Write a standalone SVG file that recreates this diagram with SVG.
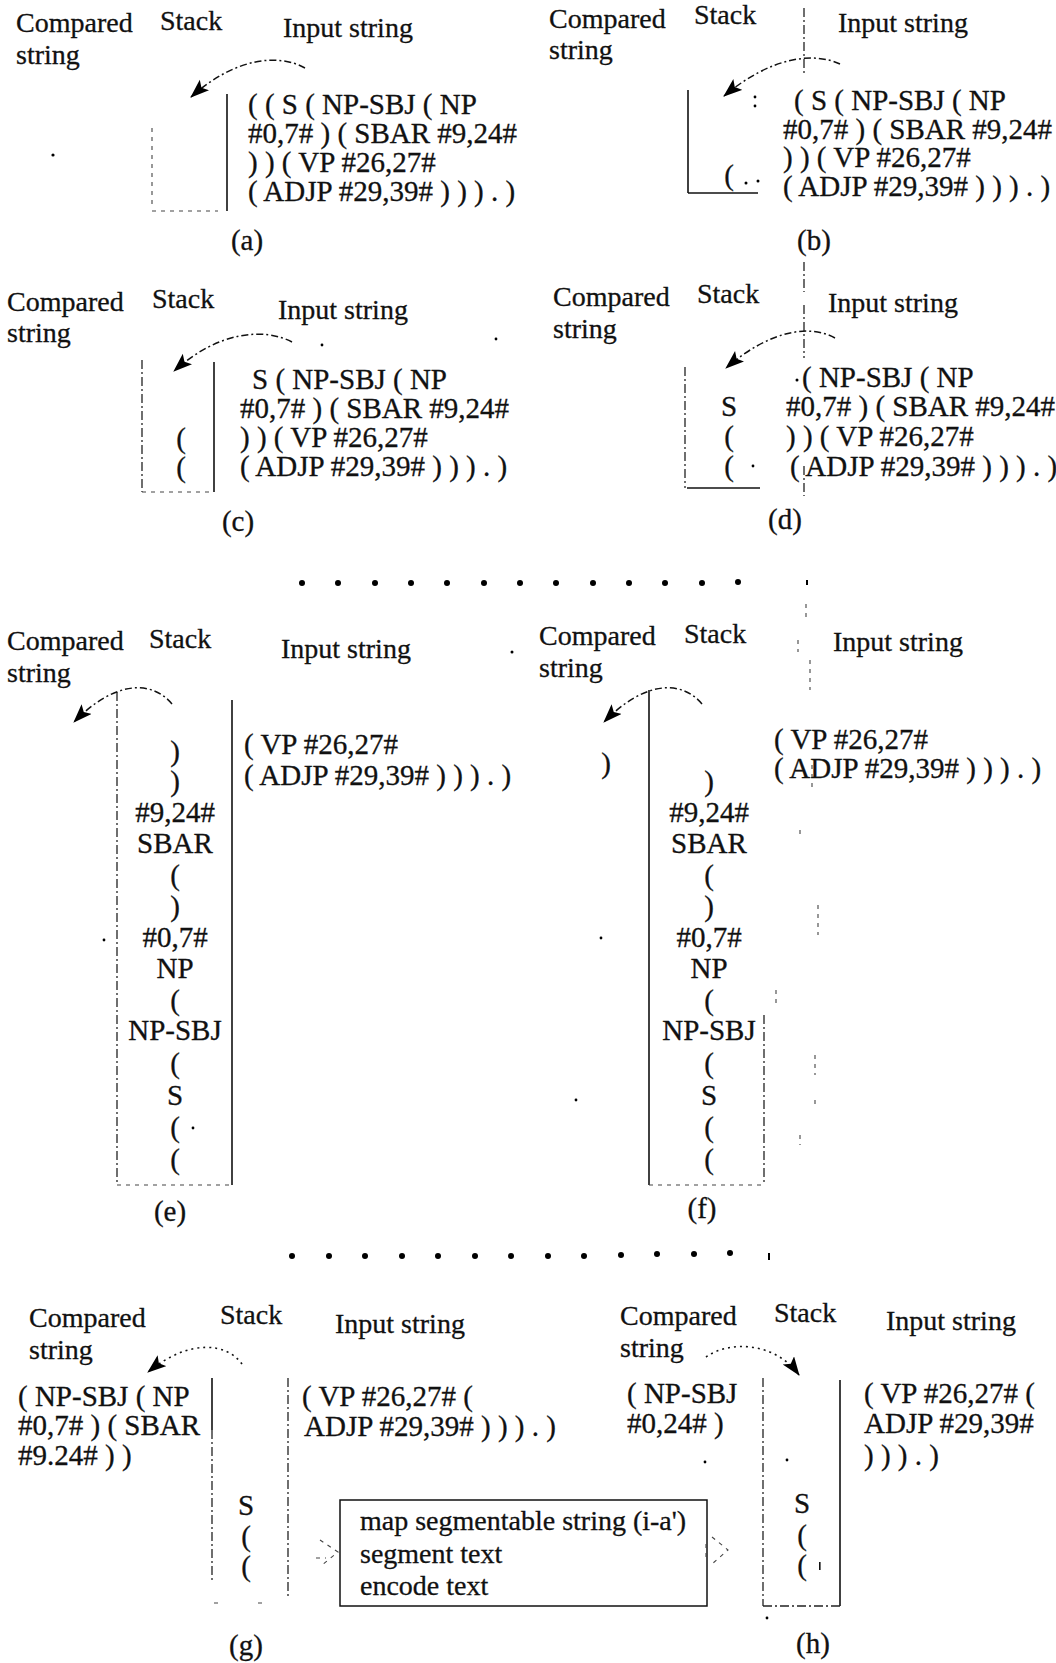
<svg xmlns="http://www.w3.org/2000/svg" width="1056" height="1663" viewBox="0 0 1056 1663">
<style>
text{font-family:"Liberation Serif","Times New Roman",serif;fill:#111;stroke:#111;stroke-width:0.3}
.h{font-size:28px}
.t{font-size:29px}
.m{text-anchor:middle}
.b{font-size:28px}
.wall{stroke:#111;stroke-width:1.6;fill:none}
.dwall{stroke:#222;stroke-width:1.3;fill:none;stroke-dasharray:9 3 2 3}
.faint{stroke:#444;stroke-width:1.1;fill:none;stroke-dasharray:4 5}
.arr{stroke:#111;stroke-width:1.5;fill:none;stroke-dasharray:7 3 2 3;marker-end:url(#ah)}
.dot{stroke:#111;stroke-width:1.6;fill:none;stroke-dasharray:2 4;marker-end:url(#ah)}
.row circle{fill:#000}
</style>
<defs>
<marker id="ah" markerUnits="userSpaceOnUse" markerWidth="22" markerHeight="16" refX="18" refY="7" orient="auto">
<path d="M0,0 L19,7 L0,14 L4,7 z" fill="#000"/>
</marker>
</defs>
<rect width="1056" height="1663" fill="#fff"/>

<g id="panel-a">
<text class="h" x="16" y="32">Compared</text>
<text class="h" x="16" y="64">string</text>
<text class="h" x="160" y="30">Stack</text>
<text class="h" x="283" y="37">Input string</text>
<line class="wall" x1="227" y1="94" x2="227" y2="211"/>
<line class="faint" x1="152" y1="128" x2="152" y2="206"/>
<line class="faint" x1="152" y1="211" x2="218" y2="211"/>
<circle cx="53" cy="155" r="1.6" fill="#000"/>
<text class="t" x="248" y="114">( ( S ( NP-SBJ ( NP</text>
<text class="t" x="248" y="143">#0,7# ) ( SBAR #9,24#</text>
<text class="t" x="248" y="172">) ) ( VP #26,27#</text>
<text class="t" x="248" y="201">( ADJP #29,39# ) ) ) . )</text>
<text class="t m" x="247" y="250">(a)</text>
</g>

<g id="panel-b">
<text class="h" x="549" y="28">Compared</text>
<text class="h" x="549" y="59">string</text>
<text class="h" x="694" y="24">Stack</text>
<text class="h" x="838" y="32">Input string</text>
<line class="dwall" x1="804" y1="8" x2="804" y2="76"/>
<line class="wall" x1="688" y1="90" x2="688" y2="193"/>
<line class="wall" x1="688" y1="193" x2="758" y2="193"/>
<circle cx="755" cy="97" r="1.4" fill="#000"/>
<circle cx="755" cy="106" r="1.4" fill="#000"/>
<text class="t m" x="729" y="185">(</text>
<circle cx="746" cy="183" r="1.5" fill="#000"/>
<circle cx="758" cy="181" r="1.5" fill="#000"/>
<text class="t" x="794" y="110">( S ( NP-SBJ ( NP</text>
<text class="t" x="783" y="139">#0,7# ) ( SBAR #9,24#</text>
<text class="t" x="783" y="167">) ) ( VP #26,27#</text>
<text class="t" x="783" y="196">( ADJP #29,39# ) ) ) . )</text>
<text class="t m" x="814" y="250">(b)</text>
</g>

<g id="panel-c">
<text class="h" x="7" y="311">Compared</text>
<text class="h" x="7" y="342">string</text>
<text class="h" x="152" y="308">Stack</text>
<text class="h" x="278" y="319">Input string</text>
<line class="dwall" x1="142" y1="360" x2="142" y2="492"/>
<line class="wall" x1="214" y1="362" x2="214" y2="492"/>
<line class="faint" x1="142" y1="492" x2="212" y2="492"/>
<circle cx="322" cy="345" r="1.4" fill="#000"/>
<circle cx="496" cy="339" r="1.4" fill="#000"/>
<text class="t m" x="181" y="448">(</text>
<text class="t m" x="181" y="477">(</text>
<text class="t" x="252" y="389">S ( NP-SBJ ( NP</text>
<text class="t" x="240" y="418">#0,7# ) ( SBAR #9,24#</text>
<text class="t" x="240" y="447">) ) ( VP #26,27#</text>
<text class="t" x="240" y="476">( ADJP #29,39# ) ) ) . )</text>
<text class="t m" x="238" y="531">(c)</text>
</g>

<g id="panel-d">
<text class="h" x="553" y="306">Compared</text>
<text class="h" x="553" y="338">string</text>
<text class="h" x="697" y="303">Stack</text>
<text class="h" x="828" y="312">Input string</text>
<path class="dwall" d="M804 262 V292 M804 305 V358 M804 466 V496"/>
<line class="dwall" x1="685" y1="367" x2="685" y2="488"/>
<line class="wall" x1="687" y1="488" x2="760" y2="488"/>
<circle cx="753" cy="466" r="1.4" fill="#000"/>
<text class="t m" x="729" y="416">S</text>
<text class="t m" x="729" y="446">(</text>
<text class="t m" x="729" y="476">(</text>
<circle cx="797" cy="380" r="1.5" fill="#000"/>
<text class="t" x="802" y="387">( NP-SBJ ( NP</text>
<text class="t" x="786" y="416">#0,7# ) ( SBAR #9,24#</text>
<text class="t" x="786" y="446">) ) ( VP #26,27#</text>
<text class="t" x="790" y="476">( ADJP #29,39# ) ) ) . )</text>
<text class="t m" x="785" y="529">(d)</text>
</g>

<g id="row-dots-1" class="row">
<circle cx="302" cy="583" r="3"/><circle cx="338" cy="583" r="3"/><circle cx="375" cy="583" r="3"/><circle cx="411" cy="583" r="3"/><circle cx="447" cy="583" r="3"/><circle cx="484" cy="583" r="3"/><circle cx="520" cy="583" r="3"/><circle cx="556" cy="583" r="3"/><circle cx="593" cy="583" r="3"/><circle cx="629" cy="583" r="3"/><circle cx="665" cy="583" r="3"/><circle cx="702" cy="583" r="3"/><circle cx="738" cy="582" r="3"/>
<rect x="806" y="580" width="2" height="5"/>
</g>

<g id="panel-e">
<text class="h" x="7" y="650">Compared</text>
<text class="h" x="7" y="682">string</text>
<text class="h" x="149" y="648">Stack</text>
<text class="h" x="281" y="658">Input string</text>
<circle cx="512" cy="652" r="1.5" fill="#000"/>
<line class="dwall" x1="117" y1="692" x2="117" y2="1185"/>
<line class="wall" x1="232" y1="700" x2="232" y2="1185"/>
<line class="faint" x1="117" y1="1185" x2="230" y2="1185"/>
<text class="t" x="244" y="754">( VP #26,27#</text>
<text class="t" x="244" y="785">( ADJP #29,39# ) ) ) . )</text>
<text class="t m" x="175" y="761">)</text>
<text class="t m" x="175" y="791">)</text>
<text class="t m" x="175" y="822">#9,24#</text>
<text class="t m" x="175" y="853">SBAR</text>
<text class="t m" x="175" y="885">(</text>
<text class="t m" x="175" y="916">)</text>
<text class="t m" x="175" y="947">#0,7#</text>
<text class="t m" x="175" y="978">NP</text>
<text class="t m" x="175" y="1010">(</text>
<text class="t m" x="175" y="1040">NP-SBJ</text>
<text class="t m" x="175" y="1073">(</text>
<text class="t m" x="175" y="1105">S</text>
<text class="t m" x="175" y="1137">(</text>
<text class="t m" x="175" y="1169">(</text>
<circle cx="104" cy="940" r="1.4" fill="#000"/>
<circle cx="193" cy="1128" r="1.4" fill="#000"/>
<text class="t m" x="170" y="1221">(e)</text>
</g>

<g id="panel-f">
<text class="h" x="539" y="645">Compared</text>
<text class="h" x="539" y="677">string</text>
<text class="h" x="684" y="643">Stack</text>
<text class="h" x="833" y="651">Input string</text>
<path class="faint" d="M806 604 V618 M798 640 V652 M810 660 V690 M812 765 V790 M800 830 V836 M818 905 V935 M776 990 V1005 M815 1055 V1075 M815 1100 V1106 M800 1135 V1145"/>
<line class="wall" x1="649" y1="690" x2="649" y2="1185"/>
<line class="dwall" x1="764" y1="1015" x2="764" y2="1185"/>
<line class="faint" x1="649" y1="1185" x2="764" y2="1185"/>
<text class="t m" x="606" y="773">)</text>
<text class="t" x="774" y="749">( VP #26,27#</text>
<text class="t" x="774" y="778">( ADJP #29,39# ) ) ) . )</text>
<text class="t m" x="709" y="791">)</text>
<text class="t m" x="709" y="822">#9,24#</text>
<text class="t m" x="709" y="853">SBAR</text>
<text class="t m" x="709" y="885">(</text>
<text class="t m" x="709" y="916">)</text>
<text class="t m" x="709" y="947">#0,7#</text>
<text class="t m" x="709" y="978">NP</text>
<text class="t m" x="709" y="1010">(</text>
<text class="t m" x="709" y="1040">NP-SBJ</text>
<text class="t m" x="709" y="1073">(</text>
<text class="t m" x="709" y="1105">S</text>
<text class="t m" x="709" y="1137">(</text>
<text class="t m" x="709" y="1169">(</text>
<circle cx="601" cy="938" r="1.4" fill="#000"/>
<circle cx="576" cy="1100" r="1.4" fill="#000"/>
<text class="t m" x="702" y="1218">(f)</text>
</g>

<g id="row-dots-2" class="row">
<circle cx="292" cy="1256" r="3"/><circle cx="329" cy="1256" r="3"/><circle cx="365" cy="1256" r="3"/><circle cx="402" cy="1256" r="3"/><circle cx="438" cy="1256" r="3"/><circle cx="475" cy="1256" r="3"/><circle cx="511" cy="1256" r="3"/><circle cx="548" cy="1256" r="3"/><circle cx="584" cy="1256" r="3"/><circle cx="621" cy="1255" r="3"/><circle cx="657" cy="1254" r="3"/><circle cx="694" cy="1254" r="3"/><circle cx="730" cy="1253" r="3"/>
<rect x="768" y="1253" width="2" height="7"/>
</g>

<g id="panel-g">
<text class="h" x="29" y="1327">Compared</text>
<text class="h" x="29" y="1359">string</text>
<text class="h" x="220" y="1324">Stack</text>
<text class="h" x="335" y="1333">Input string</text>
<text class="t" x="18" y="1406">( NP-SBJ ( NP</text>
<text class="t" x="18" y="1435">#0,7# ) ( SBAR</text>
<text class="t" x="18" y="1465">#9.24# ) )</text>
<line class="wall" x1="212" y1="1378" x2="212" y2="1430"/>
<line class="dwall" x1="212" y1="1430" x2="212" y2="1583"/>
<line class="dwall" x1="288" y1="1378" x2="288" y2="1598"/>
<path class="faint" d="M214 1603 H222 M258 1603 H266"/>
<text class="t m" x="246" y="1515">S</text>
<text class="t m" x="246" y="1546">(</text>
<text class="t m" x="246" y="1576">(</text>
<text class="t" x="302" y="1406">( VP #26,27# (</text>
<text class="t" x="304" y="1436">ADJP #29,39# ) ) ) . )</text>
<text class="t m" x="246" y="1655">(g)</text>
</g>

<g id="box-actions">
<rect x="340" y="1500" width="367" height="106" fill="none" stroke="#111" stroke-width="1.5"/>
<text class="b" x="360" y="1530">map segmentable string (i-a')</text>
<text class="b" x="360" y="1563">segment text</text>
<text class="b" x="360" y="1595">encode text</text>
</g>

<g id="panel-h">
<text class="h" x="620" y="1325">Compared</text>
<text class="h" x="620" y="1357">string</text>
<text class="h" x="774" y="1322">Stack</text>
<text class="h" x="886" y="1330">Input string</text>
<text class="t" x="627" y="1403">( NP-SBJ</text>
<text class="t" x="627" y="1433">#0,24# )</text>
<circle cx="705" cy="1462" r="1.4" fill="#000"/>
<circle cx="787" cy="1460" r="1.4" fill="#000"/>
<line class="dwall" x1="763" y1="1378" x2="763" y2="1606"/>
<line class="wall" x1="840" y1="1380" x2="840" y2="1606"/>
<line class="dwall" x1="763" y1="1606" x2="840" y2="1606"/>
<text class="t m" x="802" y="1513">S</text>
<text class="t m" x="802" y="1545">(</text>
<text class="t m" x="802" y="1575">(</text>
<rect x="819" y="1562" width="1.6" height="8" fill="#111"/>
<text class="t" x="864" y="1403">( VP #26,27# (</text>
<text class="t" x="864" y="1433">ADJP #29,39#</text>
<text class="t" x="864" y="1465">) ) ) . )</text>
<circle cx="767" cy="1618" r="1.4" fill="#000"/>
<text class="t m" x="813" y="1653">(h)</text>
</g>

<g id="connectors">
<path class="arr" d="M305 68 C280 54, 237 56, 191 97"/>
<path class="arr" d="M840 64 C814 52, 772 56, 724 96"/>
<path class="arr" d="M292 342 C265 328, 220 330, 174 371"/>
<path class="arr" d="M835 338 C810 324, 770 330, 726 368"/>
<path class="arr" d="M172 704 C152 680, 115 680, 74 722"/>
<path class="arr" d="M702 704 C682 680, 645 680, 604 722"/>
<path class="dot" d="M242 1364 C227 1343, 190 1338, 148 1372"/>
<path class="dot" d="M706 1357 C730 1340, 775 1342, 799 1375"/>
<path class="faint" d="M320 1540 L338 1552 L322 1565 M316 1558 H326"/>
<path class="faint" d="M706 1544 V1560 M712 1537 L728 1550 L712 1564"/>
</g>
</svg>
